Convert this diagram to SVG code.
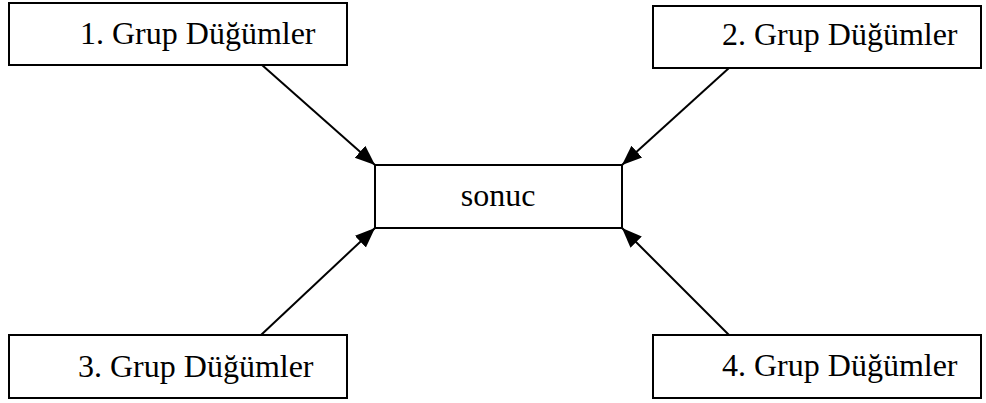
<svg xmlns="http://www.w3.org/2000/svg" width="986" height="403" viewBox="0 0 986 403">
<style>
.box{fill:#fff;stroke:#000;stroke-width:2}
.lbl{font-family:"Liberation Serif","Times New Roman",serif;font-size:32px;fill:#000}
.edge{stroke:#000;stroke-width:2;fill:none;marker-end:url(#ah)}
</style>
<defs>
<marker id="ah" markerUnits="userSpaceOnUse" markerWidth="22" markerHeight="18" viewBox="0 0 22 18" refX="20" refY="9" orient="auto">
<path d="M0,1 L20,9 L0,17 Z" fill="#000"/>
</marker>
</defs>
<rect width="986" height="403" fill="#fff"/>
<g id="n1"><rect class="box" x="9" y="3" width="338" height="62"/><text class="lbl" x="80" y="44">1. Grup Düğümler</text></g>
<g id="n2"><rect class="box" x="653" y="6" width="328" height="62"/><text class="lbl" x="722" y="45">2. Grup Düğümler</text></g>
<g id="sonuc"><rect class="box" x="375" y="165" width="247" height="63"/><text class="lbl" x="498" y="206" text-anchor="middle">sonuc</text></g>
<g id="n3"><rect class="box" x="9" y="335" width="338" height="63"/><text class="lbl" x="78" y="377">3. Grup Düğümler</text></g>
<g id="n4"><rect class="box" x="653" y="335" width="328" height="63"/><text class="lbl" x="722" y="376">4. Grup Düğümler</text></g>
<g id="edges">
<line class="edge" x1="262" y1="65" x2="375" y2="165"/>
<line class="edge" x1="729" y1="68" x2="622" y2="165"/>
<line class="edge" x1="261" y1="335" x2="375" y2="228"/>
<line class="edge" x1="729" y1="335" x2="622" y2="228"/>
</g>
</svg>
